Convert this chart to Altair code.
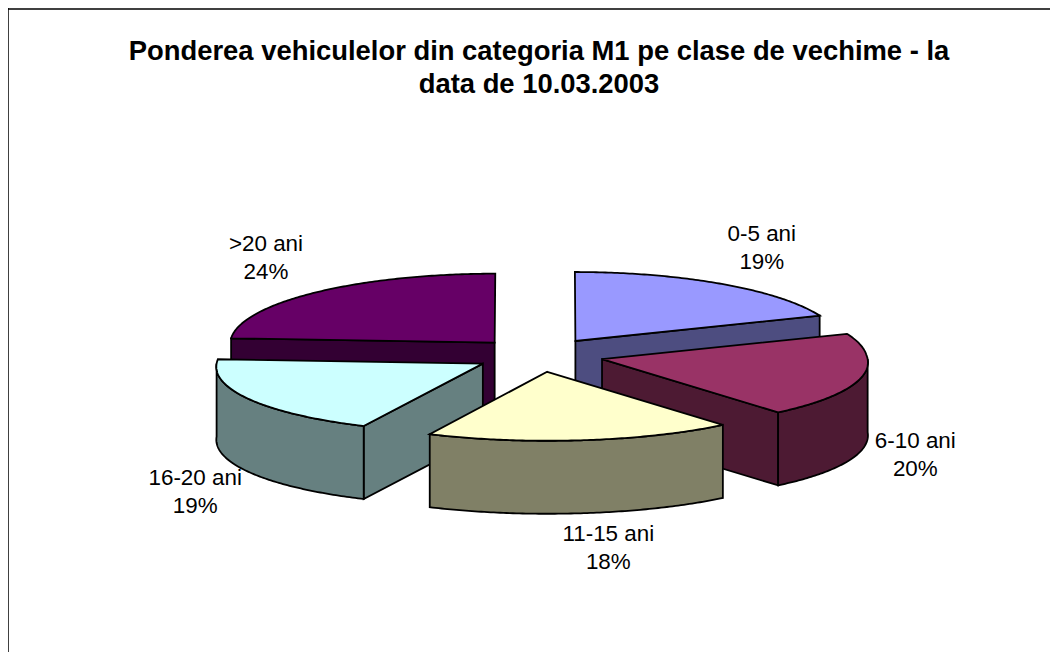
import math
import altair as alt

# ---- data ----
CATEGORIES = ["0-5 ani", "6-10 ani", "11-15 ani", "16-20 ani", ">20 ani"]
SHARES = [19, 20, 18, 19, 24]
TOP_COLORS = ["#9999FF", "#993366", "#FFFFCC", "#CCFFFF", "#660066"]
SIDE_COLORS = ["#4D4D80", "#4D1A33", "#808066", "#668080", "#330033"]
TITLE_LINES = ["Ponderea vehiculelor din categoria M1 pe clase de vechime - la",
               "data de 10.03.2003"]

# ---- layout of the tilted pie ----
W, H = 1042, 644
CX, CY = 531, 347      # pie centre inside the view
RX, RY = 265, 69       # ellipse radii of the top face
DEPTH = 73             # height of the extruded wall
EXPLODE = 0.245        # slice explosion, share of radius
PERSP_FRONT = 0.00055  # front of the pie is drawn slightly wider
PERSP_BACK = 0.0002    # back of the pie slightly narrower
PAINT_ORDER = [4, 0, 3, 1, 2]
LABEL_SHIFT = [(40, -36), (53, 6), (26, 35), (-53, 20), (-50, -34)]
LINE_H = 28


def persp(x, y):
    return x * (1 + (PERSP_FRONT if y > 0 else PERSP_BACK) * y)


def pt(deg, ox, oy, dz=0.0):
    r = math.radians(deg)
    x = ox + RX * math.sin(r)
    y = oy - RY * math.cos(r)
    return [persp(x, y), y + dz]


def arc(a0, a1, ox, oy, dz=0.0):
    n = max(2, int(abs(a1 - a0) * 1.5))
    return [pt(a0 + (a1 - a0) * i / n, ox, oy, dz) for i in range(n + 1)]


def feature(ring, fill):
    ring = ring + [ring[0]]
    return {"type": "Feature",
            "geometry": {"type": "Polygon", "coordinates": [ring]},
            "properties": {"fill": fill}}


starts, acc = [], 0
for s in SHARES:
    starts.append(acc)
    acc += s

features = []
label_rows = []
for i in range(len(SHARES)):
    a0 = starts[i] * 3.6
    a1 = (starts[i] + SHARES[i]) * 3.6
    mid = (a0 + a1) / 2
    mr = math.radians(mid)
    ox = EXPLODE * RX * math.sin(mr)
    oy = -EXPLODE * RY * math.cos(mr)
    lower_half = math.cos(mr) < 0
    rim = pt(mid, ox, oy, DEPTH if lower_half else 0)
    label_rows.append({
        "px": CX + rim[0] + LABEL_SHIFT[i][0],
        "py": CY + rim[1] + LABEL_SHIFT[i][1] - LINE_H / 2,
        "label": [CATEGORIES[i], f"{SHARES[i]}%"],
    })

for i in PAINT_ORDER:
    a0 = starts[i] * 3.6
    a1 = (starts[i] + SHARES[i]) * 3.6
    mr = math.radians((a0 + a1) / 2)
    ox = EXPLODE * RX * math.sin(mr)
    oy = -EXPLODE * RY * math.cos(mr)
    ax = persp(ox, oy)
    apex, low = [ax, oy], [ax, oy + DEPTH]
    # radial walls that face the viewer
    if math.sin(math.radians(a0)) < -1e-6:
        c = pt(a0, ox, oy)
        features.append(feature([apex, c, [c[0], c[1] + DEPTH], low], SIDE_COLORS[i]))
    if math.sin(math.radians(a1)) > 1e-6:
        c = pt(a1, ox, oy)
        features.append(feature([apex, c, [c[0], c[1] + DEPTH], low], SIDE_COLORS[i]))
    # outer wall, front half only
    r0, r1 = max(a0, 90), min(a1, 270)
    if r1 > r0:
        features.append(feature(arc(r0, r1, ox, oy) + arc(r1, r0, ox, oy, DEPTH), SIDE_COLORS[i]))
    # top face
    features.append(feature([apex] + arc(a0, a1, ox, oy), TOP_COLORS[i]))

pie = alt.Chart(alt.Data(values=features)).mark_geoshape(
    stroke="black", strokeWidth=1.8, strokeJoin="miter"
).encode(
    color=alt.Color("properties.fill:N", scale=None, legend=None)
).project(type="identity", scale=1, translate=[CX, CY])

labels = alt.Chart(alt.Data(values=label_rows)).mark_text(
    font="Liberation Sans", fontSize=22.4, color="black", lineHeight=LINE_H, baseline="middle", align="center"
).encode(
    x=alt.X("px:Q", scale=None, axis=None),
    y=alt.Y("py:Q", scale=None, axis=None),
    text="label:N",
)

frame_left = alt.Chart(alt.Data(values=[{"a": 0}])).mark_rule(color="black", strokeWidth=1.5).encode(
    x=alt.value(0), y=alt.value(0), y2=alt.value(H))
frame_top = alt.Chart(alt.Data(values=[{"a": 0}])).mark_rule(color="black", strokeWidth=1.5).encode(
    x=alt.value(0), x2=alt.value(W), y=alt.value(1))

chart = alt.layer(frame_left, frame_top, pie, labels).properties(
    width=W, height=H, padding=0,
    title=alt.Title(TITLE_LINES, font="Liberation Sans", fontSize=27.4, fontWeight="bold",
                    color="black", anchor="middle", lineHeight=33, offset=-91, dx=10),
    autosize=alt.AutoSizeParams(type="none"),
).configure_view(stroke=None)

chart.save("out.html", embed_options={"renderer": "svg", "actions": False})
